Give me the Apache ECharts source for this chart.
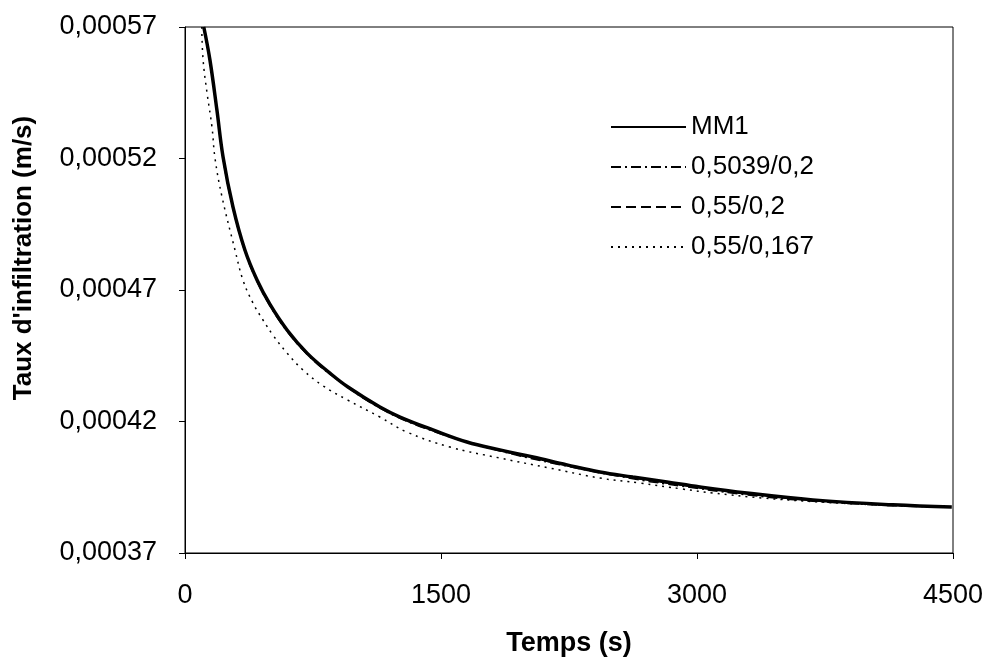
<!DOCTYPE html>
<html>
<head>
<meta charset="utf-8">
<script src="https://cdn.jsdelivr.net/npm/echarts@6/dist/echarts.min.js"></script>
<style>html,body{margin:0;padding:0;background:#fff}#c{width:986px;height:659px}</style>
</head>
<body>
<div id="c"></div>
<script>
// ---- data ----
const seriesNames = ['MM1', '0,5039/0,2', '0,55/0,2', '0,55/0,167'];
const yTicks = [0.00037, 0.00042, 0.00047, 0.00052, 0.00057];

const mm1T = [110, 146, 187, 223, 281, 351, 422, 498, 598, 715, 849, 955, 1142, 1260, 1453, 1652, 1845, 2039, 2238, 2431, 2624, 2824, 3017, 3292, 3679, 4148, 4493];
const mm1Y = [0.00057, 0.0005575, 0.0005384, 0.0005206, 0.0005016, 0.0004852, 0.0004738, 0.0004645, 0.0004548, 0.000446, 0.0004384, 0.0004331, 0.0004255, 0.0004217, 0.0004168, 0.0004122, 0.0004092, 0.0004065, 0.0004035, 0.0004008, 0.0003989, 0.000397, 0.0003951, 0.0003928, 0.0003902, 0.0003883, 0.0003875];

const ddT = [108, 146, 187, 223, 281, 351, 422, 498, 598, 715, 849, 1142, 1453, 1845, 2238, 2624, 2824, 3292, 3679, 4148, 4400];
const ddY = [0.00057, 0.000557, 0.0005378, 0.0005198, 0.000501, 0.0004846, 0.0004733, 0.000464, 0.0004543, 0.0004456, 0.000438, 0.0004251, 0.0004163, 0.0004088, 0.000403, 0.0003982, 0.0003962, 0.0003921, 0.0003897, 0.000388, 0.0003876];

const dsT = [109, 146, 187, 223, 281, 351, 422, 498, 598, 715, 849, 1142, 1453, 1845, 2238, 2624, 2824, 3292, 3679, 4148, 4450];
const dsY = [0.00057, 0.0005572, 0.000538, 0.0005202, 0.0005012, 0.0004849, 0.0004735, 0.0004643, 0.0004545, 0.0004458, 0.0004382, 0.0004253, 0.0004166, 0.000409, 0.0004033, 0.0003986, 0.0003966, 0.0003925, 0.00039, 0.0003882, 0.0003876];

const dtT = [98, 106, 129, 158, 176, 217, 293, 340, 398, 457, 516, 598, 691, 808, 949, 1142, 1300, 1552, 1845, 2138, 2431, 2665, 2917, 3093, 3386, 3720, 4100, 4450];
const dtY = [0.00057, 0.0005575, 0.000545, 0.000532, 0.00052, 0.0005054, 0.0004852, 0.0004737, 0.0004651, 0.0004586, 0.0004528, 0.000446, 0.0004396, 0.0004336, 0.0004283, 0.0004217, 0.000416, 0.0004103, 0.0004061, 0.0004023, 0.0003985, 0.0003966, 0.0003943, 0.0003928, 0.0003909, 0.0003894, 0.0003882, 0.0003876];

const zip = (t, y) => t.map((v, i) => [v, y[i]]);
const fmtY = v => v.toFixed(5).replace('.', ',');
const fmtX = v => String(Math.round(v));

const chart = echarts.init(document.getElementById('c'), null, {renderer: 'canvas'});
const FONT = '"Liberation Sans", Arial, sans-serif';

chart.setOption({
  animation: false,
  backgroundColor: '#fff',
  textStyle: {fontFamily: FONT, color: '#000'},
  grid: {left: 185, right: 33, top: 27, bottom: 106, show: true, borderColor: '#000', borderWidth: 1,
         containLabel: false, outerBoundsMode: 'none'},
  legend: {
    orient: 'vertical', left: 610, top: 114, padding: 0,
    itemWidth: 75, itemHeight: 26, itemGap: 14,
    itemStyle: {opacity: 0},
    textStyle: {fontFamily: FONT, fontSize: 26, color: '#000', lineHeight: 26},
    data: seriesNames
  },
  xAxis: {
    type: 'value', min: 0, max: 4500, interval: 1500,
    name: 'Temps (s)', nameLocation: 'middle', nameGap: 77,
    nameTextStyle: {fontFamily: FONT, fontSize: 27, fontWeight: 'bold', color: '#000'},
    axisLine: {lineStyle: {color: '#000', width: 1}},
    axisTick: {show: true, length: 6, lineStyle: {color: '#000'}},
    axisLabel: {fontFamily: FONT, fontSize: 27, color: '#000', margin: 29, formatter: fmtX},
    splitLine: {show: false}
  },
  yAxis: {
    type: 'value', min: 0.00037, max: 0.00057,
    name: "Taux d'infiltration (m/s)", nameLocation: 'middle', nameGap: 148,
    nameTextStyle: {fontFamily: FONT, fontSize: 26, fontWeight: 'bold', color: '#000', padding: [0, 0, 0, 64]},
    axisLine: {show: true, lineStyle: {color: '#000', width: 1}},
    axisTick: {show: true, length: 6, lineStyle: {color: '#000'}, customValues: yTicks},
    axisLabel: {fontFamily: FONT, fontSize: 27, color: '#000', margin: 28, customValues: yTicks, formatter: fmtY},
    splitLine: {show: false}
  },
  series: [
    {name: seriesNames[0], type: 'line', data: zip(mm1T, mm1Y), smooth: 0.4, symbol: 'none', clip: true,
     lineStyle: {color: '#000', width: 3.5}, itemStyle: {color: '#000'}, z: 5},
    {name: seriesNames[1], type: 'line', data: zip(ddT, ddY), smooth: 0.4, symbol: 'none', clip: true,
     lineStyle: {color: '#000', width: 1.5, type: [10, 4, 2, 4]}, itemStyle: {color: '#000'}},
    {name: seriesNames[2], type: 'line', data: zip(dsT, dsY), smooth: 0.4, symbol: 'none', clip: true,
     lineStyle: {color: '#000', width: 1.5, type: [10, 5]}, itemStyle: {color: '#000'}},
    {name: seriesNames[3], type: 'line', data: zip(dtT, dtY), smooth: 0.4, symbol: 'none', clip: true,
     lineStyle: {color: '#000', width: 1.5, type: [2, 5]}, itemStyle: {color: '#000'}}
  ]
});
</script>
</body>
</html>
